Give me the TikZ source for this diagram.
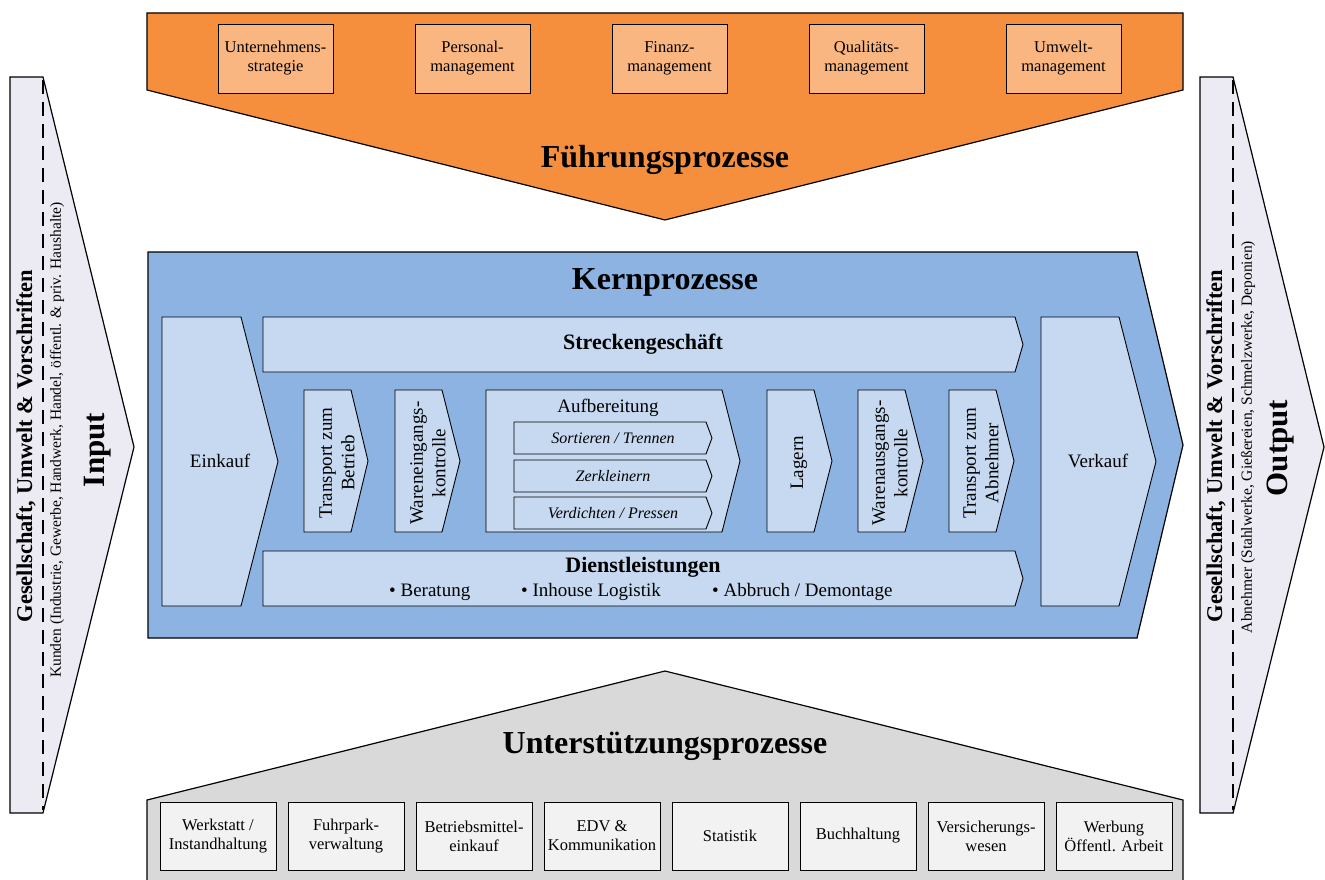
\documentclass[tikz,border=0pt]{standalone}
\usepackage{fontspec}
\setmainfont{Liberation Serif}
\definecolor{orng}{HTML}{F58F3E}
\definecolor{orngbox}{HTML}{FAB680}
\definecolor{coreblue}{HTML}{8DB3E2}
\definecolor{lightblue}{HTML}{C6D9F1}
\definecolor{graybg}{HTML}{D9D9D9}
\definecolor{graybox}{HTML}{F2F2F2}
\definecolor{lav}{HTML}{ECEAF2}
\tikzset{
  outer/.style={draw=black, line width=1.2pt, line join=miter},
  innerchev/.style={draw=black, line width=0.9pt, fill=lightblue, line join=miter},
  topbox/.style={draw=black, line width=0.9pt, fill=orngbox, minimum width=115pt, minimum height=69pt, inner sep=0pt, align=center, font=\fontsize{16.5}{19}\selectfont},
  botbox/.style={draw=black, line width=0.9pt, fill=graybox, minimum width=116pt, minimum height=68pt, inner sep=0pt, align=center, font=\fontsize{16.5}{19}\selectfont},
  bigtitle/.style={font=\fontsize{32}{36}\selectfont\bfseries, inner sep=0pt},
  subtitle/.style={font=\fontsize{22}{25}\selectfont\bfseries, inner sep=0pt},
  lbl/.style={font=\fontsize{19}{22.5}\selectfont, align=center, inner sep=0pt},
  itl/.style={font=\fontsize{16}{19}\selectfont\itshape, inner sep=0pt},
  sidebold/.style={font=\fontsize{22.5}{26}\selectfont\bfseries, inner sep=0pt, rotate=90},
  sidesmall/.style={font=\fontsize{15.5}{18}\selectfont, inner sep=0pt, rotate=90},
  sidebig/.style={font=\fontsize{31}{34}\selectfont\bfseries, inner sep=0pt, rotate=90},
  dashline/.style={draw=black, line width=1.3pt, dash pattern=on 14pt off 8pt},
}
\newcommand\chevron[6]{%
  \filldraw[#6] (#1,#2) -- (#3,#2) -- (#4,{(#2+#5)/2}) -- (#3,#5) -- (#1,#5) -- cycle;}
\begin{document}
\begin{tikzpicture}[x=1pt,y=-1pt]
\useasboundingbox (0,0) rectangle (1325,880);
\fill[white] (0,0) rectangle (1325,880);

% ---------- Input arrow ----------
\filldraw[outer, fill=lav] (10,77) -- (43,77) -- (134,447) -- (43,813) -- (10,813) -- cycle;
\draw[dashline] (43,80) -- (43,810);
\node[sidebold] (inA) at (26,446) {Gesellschaft, Umwelt \& Vorschriften};
\node[sidesmall] (inB) at (57,440) {Kunden (Industrie, Gewerbe, Handwerk, Handel, öffentl. \& priv. Haushalte)};
\node[sidebig] (inC) at (98,450) {Input};

% ---------- Output arrow ----------
\filldraw[outer, fill=lav] (1200,77) -- (1233,77) -- (1324,447) -- (1233,813) -- (1200,813) -- cycle;
\draw[dashline] (1233,80) -- (1233,810);
\node[sidebold] (outA) at (1216,446) {Gesellschaft, Umwelt \& Vorschriften};
\node[sidesmall] (outB) at (1248,437) {Abnehmer (Stahlwerke, Gießereien, Schmelzwerke, Deponien)};
\node[sidebig] (outC) at (1281,448) {Output};

% ---------- Fuehrungsprozesse ----------
\filldraw[outer, fill=orng] (147,13) -- (1183,13) -- (1183,90) -- (665,220) -- (147,90) -- cycle;
\node[topbox] (f1) at (275.5,58.5) {Unternehmens-\\strategie};
\node[topbox] (f2) at (472.5,58.5) {Personal-\\management};
\node[topbox] (f3) at (669.5,58.5) {Finanz-\\management};
\node[topbox] (f4) at (866.5,58.5) {Qualitäts-\\management};
\node[topbox] (f5) at (1063.5,58.5) {Umwelt-\\management};
\node[bigtitle] (ftitle) at (665,160) {Führungsprozesse};

% ---------- Kernprozesse ----------
\filldraw[outer, fill=coreblue] (148,252) -- (1137,252) -- (1183,445) -- (1137,638) -- (148,638) -- cycle;
\node[bigtitle] (ktitle) at (665,282) {Kernprozesse};

\chevron{162}{317}{241}{278}{606}{innerchev}
\node[lbl] (einkauf) at (220,461) {Einkauf};
\chevron{1041}{317}{1119}{1156}{606}{innerchev}
\node[lbl] (verkauf) at (1098,461) {Verkauf};

\chevron{263}{317}{1015}{1023}{372}{innerchev}
\node[subtitle] (strecke) at (643,344) {Streckengeschäft};
\chevron{263}{551}{1015}{1023}{606}{innerchev}
\node[subtitle] (dienst) at (643,567) {Dienstleistungen};
\node[lbl, anchor=west] (d1) at (389,592) {• Beratung};
\node[lbl, anchor=west] (d2) at (521,592) {• Inhouse Logistik};
\node[lbl, anchor=west] (d3) at (712,592) {• Abbruch / Demontage};

\chevron{304}{390}{351}{368}{532}{innerchev}
\node[lbl, rotate=90] (tb) at (337,463) {Transport zum\\Betrieb};
\chevron{395}{390}{442}{460}{532}{innerchev}
\node[lbl, rotate=90] (wek) at (428,463) {Wareneingangs-\\kontrolle};
\chevron{486}{390}{722}{740}{532}{innerchev}
\node[lbl] (aufb) at (608,408) {Aufbereitung};
\chevron{514}{422}{706}{712}{454}{innerchev}
\node[itl] (a1) at (613,438) {Sortieren / Trennen};
\chevron{514}{460}{706}{712}{492}{innerchev}
\node[itl] (a2) at (613,476) {Zerkleinern};
\chevron{514}{497}{706}{712}{529}{innerchev}
\node[itl] (a3) at (613,513) {Verdichten / Pressen};
\chevron{767}{390}{814}{832}{532}{innerchev}
\node[lbl, rotate=90] (lag) at (799,463) {Lagern};
\chevron{858}{390}{905}{923}{532}{innerchev}
\node[lbl, rotate=90] (wak) at (890,463) {Warenausgangs-\\kontrolle};
\chevron{949}{390}{996}{1014}{532}{innerchev}
\node[lbl, rotate=90] (ta) at (981,463) {Transport zum\\Abnehmer};

% ---------- Unterstuetzungsprozesse ----------
\fill[graybg] (147,884) -- (147,800) -- (665,671) -- (1183,800) -- (1183,884) -- cycle;
\draw[outer] (147,884) -- (147,800) -- (665,671) -- (1183,800) -- (1183,884);
\node[bigtitle] (utitle) at (665,746) {Unterstützungsprozesse};
\node[botbox] (u1) at (218,836) {Werkstatt /\\Instandhaltung};
\node[botbox] (u2) at (346,836) {Fuhrpark-\\verwaltung};
\node[botbox] (u3) at (474,836) {Betriebsmittel-\\einkauf};
\node[botbox] (u4) at (602,836) {EDV \&\\Kommunikation};
\node[botbox] (u5) at (730,836) {Statistik};
\node[botbox] (u6) at (858,836) {Buchhaltung};
\node[botbox] (u7) at (986,836) {Versicherungs-\\wesen};
\node[botbox] (u8) at (1114,836) {Werbung\\Öffentl. Arbeit};
\end{tikzpicture}
\end{document}
